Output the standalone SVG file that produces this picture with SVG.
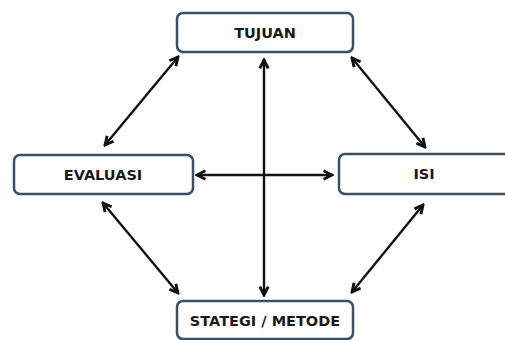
<svg xmlns="http://www.w3.org/2000/svg" width="505" height="340" viewBox="0 0 505 340">
<style>
.box{fill:#ffffff;stroke:#3b4f66;stroke-width:2.5}
.lbl{font-family:"DejaVu Sans","Liberation Sans",sans-serif;font-size:14.5px;font-weight:bold;fill:#1a1a1a;text-anchor:middle;dominant-baseline:central}
.con{stroke:#111;stroke-width:2.4;fill:none;marker-start:url(#ah);marker-end:url(#ah)}
</style>
<defs>
<marker id="ah" viewBox="0 0 10 10" refX="8.5" refY="5" markerWidth="5" markerHeight="5" orient="auto-start-reverse" markerUnits="strokeWidth">
<path d="M1.5,1.5 L8.5,5 L1.5,8.5" fill="none" stroke="#111" stroke-width="2.4" stroke-linejoin="miter"/>
</marker>
</defs>
<rect width="505" height="340" fill="#ffffff"/>
<g id="connectors">
<line class="con" x1="264" y1="60" x2="264" y2="295"/>
<line class="con" x1="197" y1="175" x2="332" y2="175"/>
<line class="con" x1="105" y1="145" x2="178" y2="57"/>
<line class="con" x1="352" y1="58" x2="425" y2="147"/>
<line class="con" x1="103" y1="203" x2="178" y2="293"/>
<line class="con" x1="423" y1="205" x2="352" y2="292"/>
</g>
<g id="tujuan">
<rect class="box" x="177" y="13" width="176" height="39" rx="6"/>
<text class="lbl" x="265" y="32.5">TUJUAN</text>
</g>
<g id="evaluasi">
<rect class="box" x="14" y="155" width="179" height="39" rx="6"/>
<text class="lbl" x="103" y="175">EVALUASI</text>
</g>
<g id="isi">
<rect class="box" x="339" y="154" width="172" height="40" rx="6"/>
<text class="lbl" x="424" y="174">ISI</text>
</g>
<g id="strategi">
<rect class="box" x="177" y="301" width="176" height="38" rx="6"/>
<text class="lbl" x="265" y="321">STATEGI / METODE</text>
</g>
</svg>
